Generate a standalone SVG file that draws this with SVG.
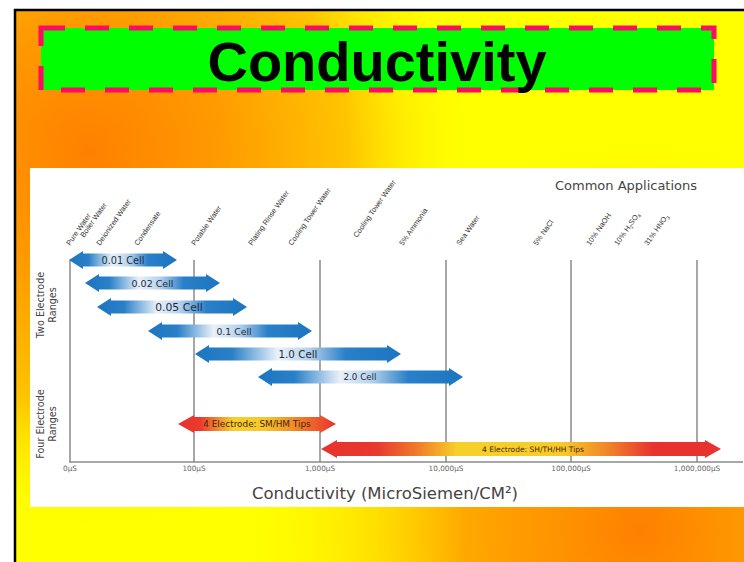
<svg xmlns="http://www.w3.org/2000/svg" width="744" height="562" viewBox="0 0 744 562">
<defs>
  <radialGradient id="bgTL" cx="90" cy="150" r="430" gradientUnits="userSpaceOnUse">
    <stop offset="0" stop-color="#ff8000"/>
    <stop offset="0.3" stop-color="#ff9a00"/>
    <stop offset="0.6" stop-color="#ffc400"/>
    <stop offset="0.9" stop-color="#ffff00" stop-opacity="0"/>
  </radialGradient>
  <radialGradient id="bgBR" cx="640" cy="530" r="440" gradientUnits="userSpaceOnUse">
    <stop offset="0" stop-color="#ff8000"/>
    <stop offset="0.4" stop-color="#ffa800"/>
    <stop offset="0.92" stop-color="#ffff00" stop-opacity="0"/>
  </radialGradient>
  <linearGradient id="blue" x1="0" y1="0" x2="1" y2="0">
    <stop offset="0" stop-color="#1c75c0"/>
    <stop offset="0.18" stop-color="#2a80c8"/>
    <stop offset="0.4" stop-color="#e9f1f9"/>
    <stop offset="0.55" stop-color="#b8d3ec"/>
    <stop offset="0.73" stop-color="#2a80c8"/>
    <stop offset="1" stop-color="#1c75c0"/>
  </linearGradient>
  <linearGradient id="red1" x1="0" y1="0" x2="1" y2="0">
    <stop offset="0" stop-color="#e8322f"/>
    <stop offset="0.14" stop-color="#ea3a2e"/>
    <stop offset="0.35" stop-color="#f6d02a"/>
    <stop offset="0.55" stop-color="#f5c82a"/>
    <stop offset="0.78" stop-color="#f07a2a"/>
    <stop offset="1" stop-color="#e8322f"/>
  </linearGradient>
  <linearGradient id="red2" x1="0" y1="0" x2="1" y2="0">
    <stop offset="0" stop-color="#e8322f"/>
    <stop offset="0.14" stop-color="#e8382f"/>
    <stop offset="0.24" stop-color="#f07a2a"/>
    <stop offset="0.34" stop-color="#f6d02a"/>
    <stop offset="0.6" stop-color="#f6cc2a"/>
    <stop offset="0.71" stop-color="#f08a2a"/>
    <stop offset="0.83" stop-color="#e8322f"/>
    <stop offset="1" stop-color="#e8322f"/>
  </linearGradient>
  <style>
    .grid{stroke:#8a8a8a;stroke-width:1.5;fill:none}
    .rot{font-family:"Liberation Sans",Arial,sans-serif;font-size:7.4px;fill:#333}
    .tick{font-family:"DejaVu Sans",Verdana,sans-serif;font-size:7.3px;fill:#666;text-anchor:middle}
    .cell{font-family:"DejaVu Sans",Verdana,sans-serif;fill:#1c2b3c;text-anchor:middle}
    .red{font-family:"DejaVu Sans",Verdana,sans-serif;fill:#4a2410;text-anchor:middle}
    .ylab{font-family:"DejaVu Sans",Verdana,sans-serif;font-size:9.6px;fill:#444;text-anchor:middle}
  </style>
</defs>

<!-- slide background -->
<g id="background">
  <rect x="0" y="0" width="744" height="562" fill="#ffffff"/>
  <rect x="15" y="10" width="729" height="552" fill="#ffff00"/>
  <rect x="15" y="10" width="729" height="552" fill="url(#bgTL)"/>
  <rect x="15" y="10" width="729" height="552" fill="url(#bgBR)"/>
  <path d="M15 562 L15 10 L744 10" fill="none" stroke="#000" stroke-width="2.5"/>
</g>

<!-- title -->
<g id="title">
  <rect x="41" y="28" width="673" height="62" fill="#00ff00" stroke="#ff0a64" stroke-width="5" stroke-dasharray="24 20"/>
  <text x="377" y="81" font-family="'Liberation Sans',Arial,sans-serif" font-weight="bold" font-size="56" text-anchor="middle" fill="#000">Conductivity</text>
</g>

<!-- chart panel -->
<g id="panel">
  <rect x="30" y="168" width="714" height="339" fill="#ffffff"/>
  <text x="626" y="190" font-family="'DejaVu Sans',Verdana,sans-serif" font-size="13" fill="#444" text-anchor="middle">Common Applications</text>
</g>

<!-- applications labels -->
<g id="applications">
  <text class="rot" transform="translate(70,246) rotate(-55)">Pure Water</text>
  <text class="rot" transform="translate(84,238) rotate(-55)">Boiler Water</text>
  <text class="rot" transform="translate(100,246) rotate(-55)">Deionized Water</text>
  <text class="rot" transform="translate(138,246) rotate(-55)">Condensate</text>
  <text class="rot" transform="translate(195,246) rotate(-55)">Potable Water</text>
  <text class="rot" transform="translate(252,246) rotate(-55)">Plating Rinse Water</text>
  <text class="rot" transform="translate(292,246) rotate(-55)">Cooling Tower Water</text>
  <text class="rot" transform="translate(357,238) rotate(-55)">Cooling Tower Water</text>
  <text class="rot" transform="translate(403,246) rotate(-55)">5% Ammonia</text>
  <text class="rot" transform="translate(460,246) rotate(-55)">Sea Water</text>
  <text class="rot" transform="translate(537,246) rotate(-55)">5% NaCl</text>
  <text class="rot" transform="translate(590,246) rotate(-55)">10% NaOH</text>
  <text class="rot" transform="translate(618,246) rotate(-55)">10% H<tspan font-size="5" dy="2">2</tspan><tspan dy="-2">SO</tspan><tspan font-size="5" dy="2">4</tspan></text>
  <text class="rot" transform="translate(648,246) rotate(-55)">31% HNO<tspan font-size="5" dy="2">3</tspan></text>
</g>

<!-- axes and grid lines -->
<g id="connectors">
  <line class="grid" x1="70" y1="260" x2="70" y2="462"/>
  <line class="grid" x1="194" y1="260" x2="194" y2="462"/>
  <line class="grid" x1="320" y1="260" x2="320" y2="462"/>
  <line class="grid" x1="446" y1="260" x2="446" y2="462"/>
  <line class="grid" x1="571" y1="260" x2="571" y2="462"/>
  <line class="grid" x1="697" y1="260" x2="697" y2="462"/>
  <line class="grid" x1="69" y1="462" x2="743" y2="462"/>
</g>

<!-- tick labels -->
<g id="ticks">
  <text class="tick" x="70" y="471">0µS</text>
  <text class="tick" x="194" y="471">100µS</text>
  <text class="tick" x="320" y="471">1,000µS</text>
  <text class="tick" x="446" y="471">10,000µS</text>
  <text class="tick" x="571" y="471">100,000µS</text>
  <text class="tick" x="697" y="471">1,000,000µS</text>
  <text x="385" y="499" font-family="'DejaVu Sans',Verdana,sans-serif" font-size="16.5" fill="#444" text-anchor="middle">Conductivity (MicroSiemen/CM²)</text>
</g>

<!-- y-axis group labels -->
<g id="two-electrode-label">
  <text class="ylab" transform="translate(44,305) rotate(-90)"><tspan x="0" y="0">Two Electrode</tspan><tspan x="0" y="12">Ranges</tspan></text>
</g>
<g id="four-electrode-label">
  <text class="ylab" transform="translate(44,424) rotate(-90)"><tspan x="0" y="0">Four Electrode</tspan><tspan x="0" y="12">Ranges</tspan></text>
</g>

<!-- two electrode ranges -->
<g id="cell-001">
  <path d="M69 260 L83 251 L83 253.5 L163 253.5 L163 251 L177 260 L163 269 L163 266.5 L83 266.5 L83 269 Z" fill="url(#blue)"/>
  <text class="cell" x="123" y="263.5" font-size="9.7">0.01 Cell</text>
</g>
<g id="cell-002">
  <path d="M85 283 L99 274 L99 276.5 L206 276.5 L206 274 L220 283 L206 292 L206 289.5 L99 289.5 L99 292 Z" fill="url(#blue)"/>
  <text class="cell" x="152.5" y="286.5" font-size="9.5">0.02 Cell</text>
</g>
<g id="cell-005">
  <path d="M97 307 L111 298 L111 300.5 L233 300.5 L233 298 L247 307 L233 316 L233 313.5 L111 313.5 L111 316 Z" fill="url(#blue)"/>
  <text class="cell" x="179" y="311" font-size="10.8">0.05 Cell</text>
</g>
<g id="cell-01">
  <path d="M148 331 L162 322 L162 324.5 L298 324.5 L298 322 L312 331 L298 340 L298 337.5 L162 337.5 L162 340 Z" fill="url(#blue)"/>
  <text class="cell" x="234" y="334.5" font-size="9.3">0.1 Cell</text>
</g>
<g id="cell-10">
  <path d="M195 354 L209 345 L209 347.5 L387 347.5 L387 345 L401 354 L387 363 L387 360.5 L209 360.5 L209 363 Z" fill="url(#blue)"/>
  <text class="cell" x="298" y="357.7" font-size="10.3">1.0 Cell</text>
</g>
<g id="cell-20">
  <path d="M258 377 L272 368 L272 370.5 L449 370.5 L449 368 L463 377 L449 386 L449 383.5 L272 383.5 L272 386 Z" fill="url(#blue)"/>
  <text class="cell" x="360" y="380.2" font-size="8.7">2.0 Cell</text>
</g>

<!-- four electrode ranges -->
<g id="sm-hm-tips">
  <path d="M178 424 L194 415 L194 417 L320 417 L320 415 L336 424 L320 433 L320 431 L194 431 L194 433 Z" fill="url(#red1)"/>
  <text class="red" x="257" y="427.2" font-size="8.9">4 Electrode: SM/HM Tips</text>
</g>
<g id="sh-th-hh-tips">
  <path d="M321 449 L337 440 L337 442 L705 442 L705 440 L721 449 L705 458 L705 456 L337 456 L337 458 Z" fill="url(#red2)"/>
  <text class="red" x="533" y="451.7" font-size="7.5">4 Electrode: SH/TH/HH Tips</text>
</g>
</svg>
